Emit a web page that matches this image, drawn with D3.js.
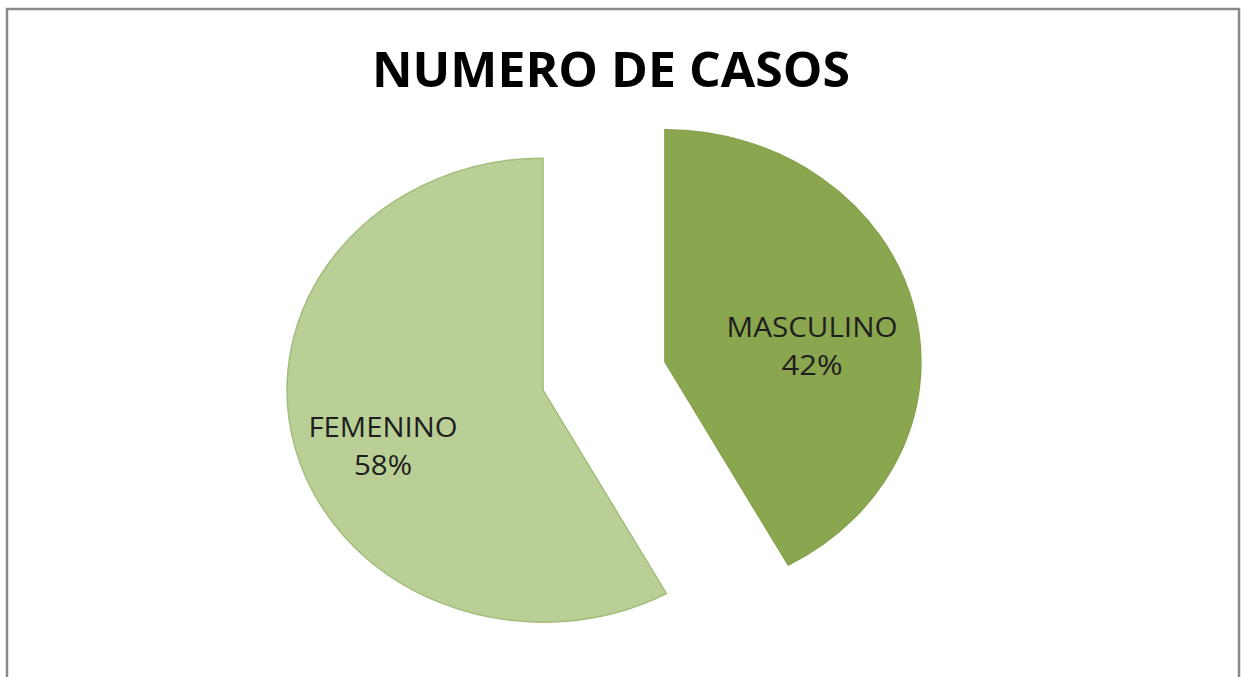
<!DOCTYPE html>
<html><head><meta charset="utf-8">
<script src="https://cdn.jsdelivr.net/npm/d3@7"></script>
<style>html,body{margin:0;padding:0;background:#fff;}svg{display:block;}</style>
</head><body>
<svg id="chart" width="1243" height="677"></svg>
<script>
const categories = ["MASCULINO", "FEMENINO"];
const values = [42, 58];
const percentLabels = ["42%", "58%"];
const colors = ["#8aa64f", "#b9cf96"];
const strokes = ["#86a24b", "#a3bd7c"];
const title = "NUMERO DE CASOS";

const svg = d3.select("#chart");
const W = 1243, H = 677;
svg.append("rect").attr("x",0).attr("y",0).attr("width",W).attr("height",H).attr("fill","#fff");
// frame
svg.append("path")
  .attr("d", "M7,680 L7,9 L1239,9 L1239,680")
  .attr("fill","none").attr("stroke","#8a8a8a").attr("stroke-width",2.5);

svg.append("text").text(title)
  .attr("x", 611).attr("y", 87)
  .attr("text-anchor","middle")
  .attr("font-family","'Open Sans', sans-serif").attr("font-weight","bold")
  .attr("font-size", 48).attr("fill","#000")
  .attr("textLength", 478).attr("lengthAdjust","spacingAndGlyphs");

const cx = 604, cy = 376, ry = 232, rx = 256, explode = 57;
const data = categories.map((c,i)=>({cat:c, value:values[i], pct:percentLabels[i], color:colors[i], stroke:strokes[i]}));
const pie = d3.pie().sort(null).value(d=>d.value);
const arcs = pie(data);
const arc = d3.arc().innerRadius(0).outerRadius(ry);

const g = svg.append("g").attr("transform", `translate(${cx},${cy}) scale(${rx/ry},1)`);
g.selectAll("path.slice").data(arcs).enter().append("path")
  .attr("class","slice")
  .attr("transform", d => {
    const m = (d.startAngle + d.endAngle)/2;
    return `translate(${Math.sin(m)*explode},${-Math.cos(m)*explode})`;
  })
  .attr("d", arc)
  .attr("fill", d => d.data.color)
  .attr("stroke", d => d.data.stroke)
  .attr("stroke-width", 1.5)
  .attr("vector-effect","non-scaling-stroke");

// label anchor positions (layout, not data)
const labelPos = [[812, 337], [383, 437]];
const nameWidths = [171, 149];
const pctWidths = [61, 58];
arcs.forEach((d,i)=>{
  const t = svg.append("g");
  t.append("text").text(d.data.cat)
    .attr("x", labelPos[i][0]).attr("y", labelPos[i][1])
    .attr("text-anchor","middle")
    .attr("font-family","'Open Sans', sans-serif").attr("font-size",27)
    .attr("fill","#1e1e1e")
    .attr("textLength", nameWidths[i]).attr("lengthAdjust","spacingAndGlyphs");
  t.append("text").text(d.data.pct)
    .attr("x", labelPos[i][0]).attr("y", labelPos[i][1] + 38)
    .attr("text-anchor","middle")
    .attr("font-family","'Open Sans', sans-serif").attr("font-size",27)
    .attr("fill","#1e1e1e")
    .attr("textLength", pctWidths[i]).attr("lengthAdjust","spacingAndGlyphs");
});
</script>
</body></html>
